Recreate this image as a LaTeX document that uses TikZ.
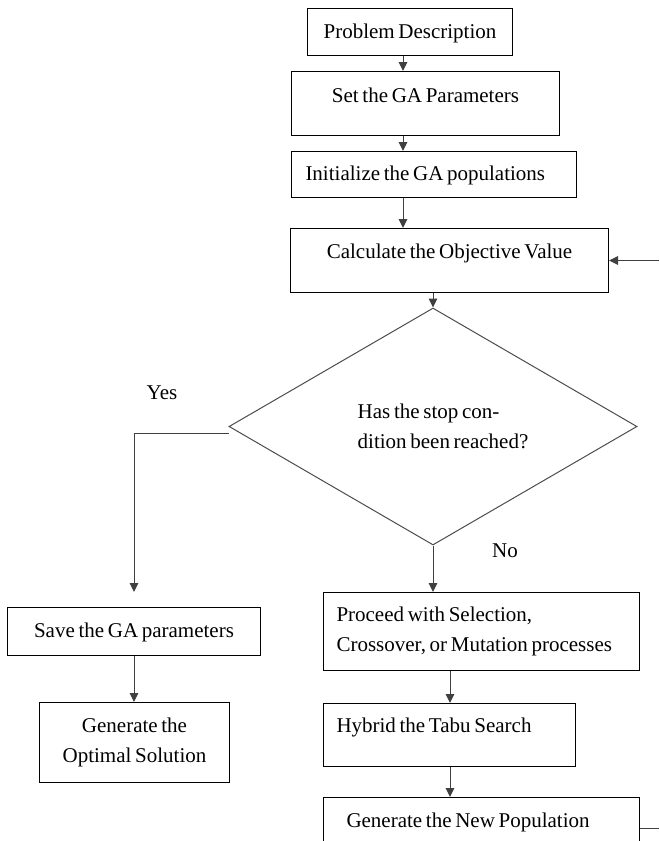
\documentclass[tikz,border=0pt]{standalone}
\usepackage{fontspec}
\setmainfont[WordSpace=0.7]{Liberation Serif}
\usetikzlibrary{arrows.meta,shapes.geometric}

\begin{document}
\begin{tikzpicture}[x=1pt, y=-1pt, font=\fontsize{21}{30}\selectfont,
    >={Triangle[length=9pt,width=8.5pt]}, line width=1pt,
    box/.style={draw, rectangle, inner sep=0pt, anchor=north west, align=center},
    lbox/.style={draw, rectangle, inner ysep=0pt, anchor=north west, align=flush left},
    decision/.style={draw=black!70, diamond, inner sep=0pt, align=flush left},
    flow/.style={draw=black!75}]
  \useasboundingbox (0,0) rectangle (659,841);
  % main column
  \node[box, minimum width=205pt, minimum height=47pt, text height=14pt, text depth=1pt] (prob) at (307,8) {Problem Description};
  \node[box, minimum width=268pt, minimum height=64pt, text height=14pt, text depth=16pt] (param) at (291,71) {Set the GA Parameters};
  \node[lbox, inner xsep=14pt, text width=257pt, minimum height=46pt, text height=14pt, text depth=2pt] (init) at (291,151) {Initialize the GA populations};
  \node[box, minimum width=318pt, minimum height=64pt, text height=14pt, text depth=18pt] (calc) at (290,228) {Calculate the Objective Value};
  \node[decision, minimum width=408pt, minimum height=237pt] (test) at (433,426.5) {\kern20pt Has the stop con-\\\kern20pt dition been reached?};
  % no branch
  \node[lbox, inner xsep=13pt, text width=290pt, minimum height=78pt] (proc) at (323,592) {Proceed with Selection,\\Crossover, or Mutation processes};
  \node[lbox, inner xsep=13pt, text width=226pt, minimum height=63pt, text height=14pt, text depth=19pt] (hyb) at (323,703) {Hybrid the Tabu Search};
  \node[lbox, inner xsep=23pt, text width=270pt, minimum height=62pt, text height=14pt, text depth=16pt] (newpop) at (323,797) {Generate the New Population};
  % yes branch
  \node[box, minimum width=253pt, minimum height=48pt, text height=14pt, text depth=2pt] (save) at (7,607) {Save the GA parameters};
  \node[box, minimum width=190pt, minimum height=80pt] (optim) at (39,702) {Generate the\\Optimal Solution};
  \node (yes) at (162,393) {Yes};
  \node (no) at (505,551) {No};
  % connectors
  \coordinate (spineA) at (403,0);
  \coordinate (spineB) at (450,0);
  \coordinate (edge) at (659,0);
  \draw[flow,->] (prob.south -| spineA) -- (param.north -| spineA);
  \draw[flow,->] (param.south -| spineA) -- (init.north -| spineA);
  \draw[flow,->] (init.south -| spineA) -- (calc.north -| spineA);
  \draw[flow,->] (calc.south -| test.north) -- (test.north);
  \draw[flow,->] ([yshift=-7pt]test.west) -| ([yshift=15pt]save.north);
  \draw[flow,->] (test.south) -- (test.south |- proc.north);
  \draw[flow,->] (proc.south -| spineB) -- (hyb.north -| spineB);
  \draw[flow,->] (hyb.south -| spineB) -- (newpop.north -| spineB);
  \draw[flow,->] (save.south) -- (save.south |- optim.north);
  \draw[flow] (newpop.east) -- (newpop.east -| edge);
  \draw[flow,->] (calc.east -| edge) -- (calc.east);
\end{tikzpicture}
\end{document}
